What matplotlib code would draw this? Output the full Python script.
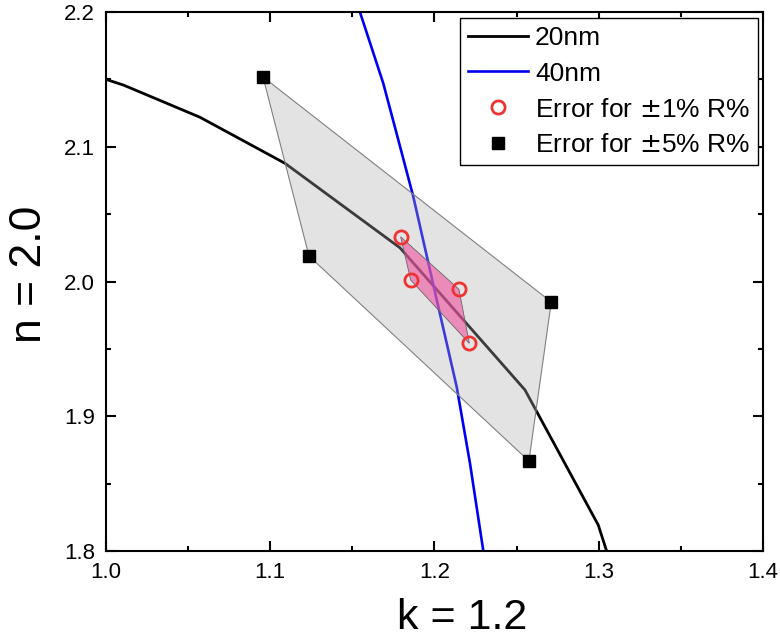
import matplotlib
matplotlib.use("Agg")
import matplotlib.pyplot as plt
from matplotlib.ticker import MultipleLocator

plt.rcParams['font.family'] = ['Liberation Sans', 'DejaVu Sans']

# 20nm curve (k, n)
k_20nm = [1.0000, 1.0106, 1.0572, 1.1090, 1.1790, 1.2551, 1.2997, 1.3048]
n_20nm = [2.1500, 2.1458, 2.1219, 2.0877, 2.0250, 1.9195, 1.8193, 1.8000]

# 40nm curve (k, n)
k_40nm = [1.1546, 1.1688, 1.1769, 1.1871, 1.2000, 1.2135, 1.2216, 1.2297]
n_40nm = [2.2000, 2.1471, 2.1100, 2.0629, 1.9937, 1.9219, 1.8651, 1.8002]

# Error points for +-1% R%  (polygon order)
k_err1 = [1.1794, 1.2149, 1.2212, 1.1855]
n_err1 = [2.0332, 1.9942, 1.9541, 2.0011]

# Error points for +-5% R%  (polygon order)
k_err5 = [1.0956, 1.2711, 1.2575, 1.1236]
n_err5 = [2.1518, 1.9848, 1.8668, 2.0189]

fig = plt.figure(figsize=(7.8, 6.42), dpi=100)
ax = fig.add_axes([0.1359, 0.1417, 0.9782 - 0.1359, 0.9813 - 0.1417])

ax.plot(k_20nm, n_20nm, color='black', lw=2.0, zorder=1, label='20nm')
ax.plot(k_40nm, n_40nm, color='#0000f0', lw=1.9, zorder=1, label='40nm')

ax.fill(k_err5, n_err5, facecolor=(174/255, 174/255, 174/255, 0.345),
        edgecolor=(0.5, 0.5, 0.5, 1.0), lw=0.8, zorder=2)
ax.fill(k_err1, n_err1, facecolor=(240/255, 80/255, 160/255, 0.6),
        edgecolor=(0.4, 0.4, 0.4, 1.0), lw=0.6, zorder=3)

ax.plot(k_err1, n_err1, ls='none', marker='o', ms=9.5, mfc='none',
        mec='#ee3333', mew=2.0, zorder=4, label='Error for $\\pm$1% R%')
ax.plot(k_err5, n_err5, ls='none', marker='s', ms=8.4, color='black',
        zorder=4, label='Error for $\\pm$5% R%')

ax.set_xlim(1.0, 1.4)
ax.set_ylim(1.8, 2.2)
ax.xaxis.set_major_locator(MultipleLocator(0.1))
ax.xaxis.set_minor_locator(MultipleLocator(0.05))
ax.yaxis.set_major_locator(MultipleLocator(0.1))
ax.yaxis.set_minor_locator(MultipleLocator(0.05))
ax.xaxis.set_major_formatter(plt.FormatStrFormatter('%.1f'))
ax.yaxis.set_major_formatter(plt.FormatStrFormatter('%.1f'))

ax.tick_params(which='both', direction='in', top=True, right=True, width=1.5,
               labelsize=16)
ax.tick_params(which='major', length=7)
ax.tick_params(which='minor', length=3.5)
ax.tick_params(axis='x', which='major', pad=8)
ax.tick_params(axis='y', which='major', pad=8)
for s in ax.spines.values():
    s.set_linewidth(1.5)

ax.set_xlabel('k = 1.2', fontsize=31)
ax.set_ylabel('n = 2.0', fontsize=32)
ax.xaxis.set_label_coords(0.542, -0.088)
ax.yaxis.set_label_coords(-0.086, 0.514)

leg = ax.legend(loc='upper right', bbox_to_anchor=(0.9925, 0.989),
                borderaxespad=0, fontsize=19, frameon=True, fancybox=False,
                edgecolor='black', handlelength=2.3, handletextpad=0.25,
                labelspacing=0.45, borderpad=0.3, framealpha=1)
leg.get_frame().set_linewidth(1.0)
leg.set_zorder(10)

fig.savefig('out.png', dpi=100)
